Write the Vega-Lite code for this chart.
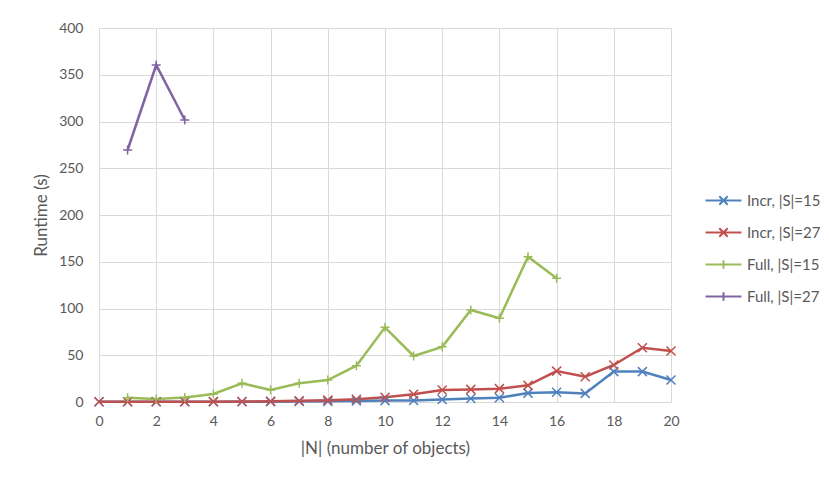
{
  "$schema": "https://vega.github.io/schema/vega-lite/v6.json",
  "width": 572,
  "height": 374,
  "autosize": "none",
  "padding": {"left": 99, "top": 28, "right": 158, "bottom": 75},
  "background": "white",
  "config": {
    "font": "Lato",
    "view": {"stroke": null},
    "axis": {
      "gridColor": "#d9d9d9",
      "gridWidth": 1,
      "labelColor": "#595959",
      "labelFont": "Lato",
      "labelFontSize": 14,
      "titleColor": "#595959",
      "titleFont": "Lato",
      "titleFontSize": 17,
      "titleFontWeight": "normal",
      "ticks": false,
      "labelFlush": false
    },
    "legend": {
      "labelColor": "#595959",
      "labelFont": "Lato",
      "labelFontSize": 15
    }
  },
  "data": {
    "values": [
      {"n": 0, "series": "Incr, |S|=15", "kind": "Incr", "t": 0.2},
      {"n": 1, "series": "Incr, |S|=15", "kind": "Incr", "t": 0.2},
      {"n": 2, "series": "Incr, |S|=15", "kind": "Incr", "t": 0.2},
      {"n": 3, "series": "Incr, |S|=15", "kind": "Incr", "t": 0.2},
      {"n": 4, "series": "Incr, |S|=15", "kind": "Incr", "t": 0.2},
      {"n": 5, "series": "Incr, |S|=15", "kind": "Incr", "t": 0.3},
      {"n": 6, "series": "Incr, |S|=15", "kind": "Incr", "t": 0.4},
      {"n": 7, "series": "Incr, |S|=15", "kind": "Incr", "t": 0.5},
      {"n": 8, "series": "Incr, |S|=15", "kind": "Incr", "t": 0.7},
      {"n": 9, "series": "Incr, |S|=15", "kind": "Incr", "t": 1.0},
      {"n": 10, "series": "Incr, |S|=15", "kind": "Incr", "t": 1.5},
      {"n": 11, "series": "Incr, |S|=15", "kind": "Incr", "t": 1.7},
      {"n": 12, "series": "Incr, |S|=15", "kind": "Incr", "t": 2.7},
      {"n": 13, "series": "Incr, |S|=15", "kind": "Incr", "t": 3.7},
      {"n": 14, "series": "Incr, |S|=15", "kind": "Incr", "t": 4.5},
      {"n": 15, "series": "Incr, |S|=15", "kind": "Incr", "t": 9.5},
      {"n": 16, "series": "Incr, |S|=15", "kind": "Incr", "t": 10.4},
      {"n": 17, "series": "Incr, |S|=15", "kind": "Incr", "t": 9.2},
      {"n": 18, "series": "Incr, |S|=15", "kind": "Incr", "t": 32.5},
      {"n": 19, "series": "Incr, |S|=15", "kind": "Incr", "t": 32.5},
      {"n": 20, "series": "Incr, |S|=15", "kind": "Incr", "t": 23.5},
      {"n": 0, "series": "Incr, |S|=27", "kind": "Incr", "t": 0.3},
      {"n": 1, "series": "Incr, |S|=27", "kind": "Incr", "t": 0.3},
      {"n": 2, "series": "Incr, |S|=27", "kind": "Incr", "t": 0.3},
      {"n": 3, "series": "Incr, |S|=27", "kind": "Incr", "t": 0.3},
      {"n": 4, "series": "Incr, |S|=27", "kind": "Incr", "t": 0.4},
      {"n": 5, "series": "Incr, |S|=27", "kind": "Incr", "t": 0.5},
      {"n": 6, "series": "Incr, |S|=27", "kind": "Incr", "t": 0.8},
      {"n": 7, "series": "Incr, |S|=27", "kind": "Incr", "t": 1.3},
      {"n": 8, "series": "Incr, |S|=27", "kind": "Incr", "t": 2.0},
      {"n": 9, "series": "Incr, |S|=27", "kind": "Incr", "t": 3.0},
      {"n": 10, "series": "Incr, |S|=27", "kind": "Incr", "t": 5.0},
      {"n": 11, "series": "Incr, |S|=27", "kind": "Incr", "t": 8.2},
      {"n": 12, "series": "Incr, |S|=27", "kind": "Incr", "t": 12.8},
      {"n": 13, "series": "Incr, |S|=27", "kind": "Incr", "t": 13.5},
      {"n": 14, "series": "Incr, |S|=27", "kind": "Incr", "t": 14.3},
      {"n": 15, "series": "Incr, |S|=27", "kind": "Incr", "t": 17.8},
      {"n": 16, "series": "Incr, |S|=27", "kind": "Incr", "t": 33.0},
      {"n": 17, "series": "Incr, |S|=27", "kind": "Incr", "t": 27.0},
      {"n": 18, "series": "Incr, |S|=27", "kind": "Incr", "t": 39.6},
      {"n": 19, "series": "Incr, |S|=27", "kind": "Incr", "t": 58.0},
      {"n": 20, "series": "Incr, |S|=27", "kind": "Incr", "t": 54.5},
      {"n": 1, "series": "Full, |S|=15", "kind": "Full", "t": 4.6},
      {"n": 2, "series": "Full, |S|=15", "kind": "Full", "t": 3.2},
      {"n": 3, "series": "Full, |S|=15", "kind": "Full", "t": 4.8},
      {"n": 4, "series": "Full, |S|=15", "kind": "Full", "t": 8.6},
      {"n": 5, "series": "Full, |S|=15", "kind": "Full", "t": 20.0},
      {"n": 6, "series": "Full, |S|=15", "kind": "Full", "t": 12.8},
      {"n": 7, "series": "Full, |S|=15", "kind": "Full", "t": 20.0},
      {"n": 8, "series": "Full, |S|=15", "kind": "Full", "t": 23.5},
      {"n": 9, "series": "Full, |S|=15", "kind": "Full", "t": 38.8},
      {"n": 10, "series": "Full, |S|=15", "kind": "Full", "t": 79.9},
      {"n": 11, "series": "Full, |S|=15", "kind": "Full", "t": 49.2},
      {"n": 12, "series": "Full, |S|=15", "kind": "Full", "t": 59.0},
      {"n": 13, "series": "Full, |S|=15", "kind": "Full", "t": 98.4},
      {"n": 14, "series": "Full, |S|=15", "kind": "Full", "t": 89.5},
      {"n": 15, "series": "Full, |S|=15", "kind": "Full", "t": 155.4},
      {"n": 16, "series": "Full, |S|=15", "kind": "Full", "t": 132.3},
      {"n": 1, "series": "Full, |S|=27", "kind": "Full", "t": 269.5},
      {"n": 2, "series": "Full, |S|=27", "kind": "Full", "t": 360.4},
      {"n": 3, "series": "Full, |S|=27", "kind": "Full", "t": 301.6}
    ]
  },
  "encoding": {
    "x": {
      "field": "n",
      "type": "quantitative",
      "scale": {"domain": [0, 20], "nice": false},
      "axis": {
        "values": [0, 2, 4, 6, 8, 10, 12, 14, 16, 18, 20],
        "title": "|N| (number of objects)",
        "labelPadding": 12,
        "titlePadding": 12,
        "domainColor": "#d9d9d9",
        "domainWidth": 1
      }
    },
    "y": {
      "field": "t",
      "type": "quantitative",
      "scale": {"domain": [0, 400], "nice": false},
      "axis": {
        "values": [0, 50, 100, 150, 200, 250, 300, 350, 400],
        "title": "Runtime (s)",
        "domain": false,
        "labelPadding": 16,
        "titlePadding": 8
      }
    },
    "color": {
      "field": "series",
      "type": "nominal",
      "scale": {
        "domain": ["Incr, |S|=15", "Incr, |S|=27", "Full, |S|=15", "Full, |S|=27"],
        "range": ["#4F81BD", "#C0504D", "#9BBB59", "#8064A2"]
      },
      "legend": {
        "title": null,
        "orient": "none",
        "legendX": 617,
        "legendY": 165,
        "symbolSize": 144,
        "symbolStrokeWidth": 2,
        "symbolFillColor": "transparent",
        "labelOffset": 16,
        "rowPadding": 15,
        "encode": {
          "symbols": {
            "update": {
              "shape": {"signal": "indexof(datum.value, 'Incr') == 0 ? 'M-3,0L3,0M-0.7,-0.7L0.7,0.7M-0.7,0.7L0.7,-0.7' : 'M-3,0L3,0M0,-0.7L0,0.7'"},
              "fill": {"value": "transparent"}
            }
          }
        }
      }
    }
  },
  "layer": [
    {
      "mark": {"type": "line", "strokeWidth": 2.5},
      "encoding": {"detail": {"field": "series"}}
    },
    {
      "transform": [{"filter": "datum.kind == 'Incr'"}],
      "mark": {"type": "point", "filled": false, "strokeWidth": 1.5, "opacity": 1, "size": 81, "shape": "M-1,-1L1,1M-1,1L1,-1"}
    },
    {
      "transform": [{"filter": "datum.kind == 'Full'"}],
      "mark": {"type": "point", "filled": false, "strokeWidth": 1.5, "opacity": 1, "size": 81, "shape": "M-1,0L1,0M0,-1L0,1"}
    }
  ]
}
